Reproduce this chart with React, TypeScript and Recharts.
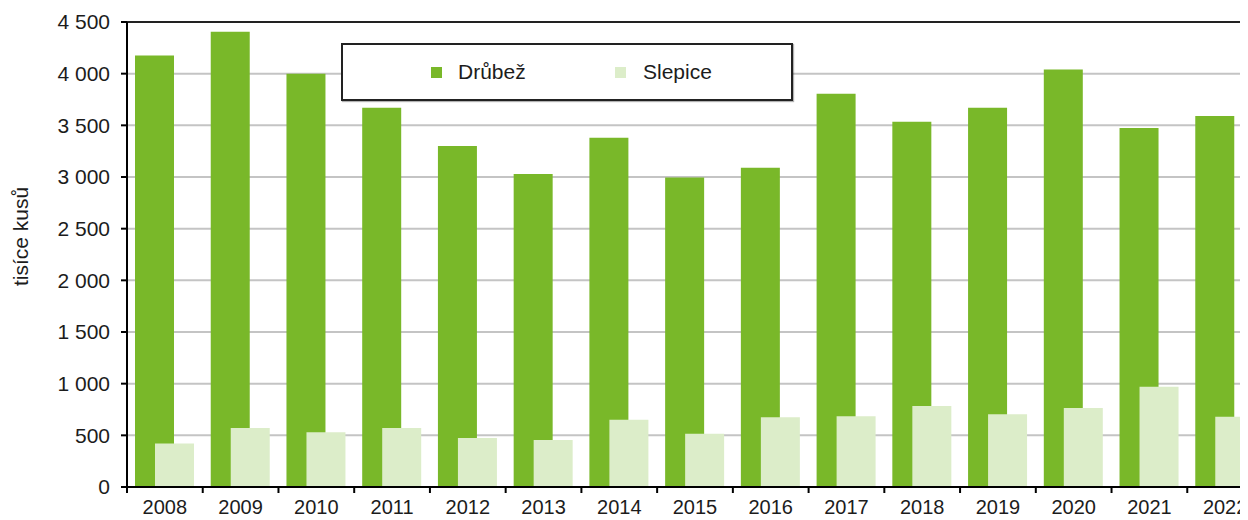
import React from 'react';
import {
  BarChart,
  Bar,
  XAxis,
  YAxis,
  CartesianGrid,
  ReferenceLine,
} from 'recharts';

const years = ['2008', '2009', '2010', '2011', '2012', '2013', '2014', '2015', '2016', '2017', '2018', '2019', '2020', '2021', '2022'];
const drubez = [4175, 4405, 4000, 3670, 3300, 3030, 3380, 2995, 3090, 3805, 3535, 3670, 4040, 3475, 3590];
const slepice = [420, 570, 530, 570, 475, 455, 650, 515, 675, 685, 785, 705, 765, 970, 680];
const yTicks = [0, 500, 1000, 1500, 2000, 2500, 3000, 3500, 4000, 4500];

const GREEN = '#79b829';
const LIGHT = '#dcedc9';
const FONT = '"Liberation Sans", Arial, sans-serif';
const TEXT = '#1c1c1c';

const CHART_W = 1255;
const Y_AXIS_W = 119;
const BAND = (CHART_W - Y_AXIS_W) / years.length;

const data = years.map((y, i) => ({ year: y, drubez: drubez[i], slepice: slepice[i] }));

// "4500" -> "4 500"
const fmt = (v: number) =>
  v >= 1000 ? `${Math.floor(v / 1000)} ${String(v % 1000).padStart(3, '0')}` : String(v);

const XTick = (props: any) => {
  const { x, y, payload } = props;
  const left = x - BAND / 2;
  return (
    <g>
      <line x1={left} x2={left} y1={y} y2={y + 6} stroke="#000" strokeWidth={2} />
      <text x={x} y={y + 27} textAnchor="middle" fontSize={20} fontFamily={FONT} fill={TEXT}>
        {payload.value}
      </text>
    </g>
  );
};

const App: React.FC = () => {
  return (
    <div style={{ width: 1240, height: 512, overflow: 'hidden', position: 'relative', fontFamily: FONT }}>
      <BarChart
        width={CHART_W}
        height={512}
        data={data}
        margin={{ top: 14, right: 0, left: 0, bottom: 0 }}
        barSize={39}
        barGap={-19}
      >
        <CartesianGrid vertical={false} stroke="#c4c4c4" strokeWidth={2} />
        <XAxis
          dataKey="year"
          height={33}
          tickLine={false}
          tickSize={0}
          tickMargin={0}
          axisLine={{ stroke: '#000', strokeWidth: 2 }}
          tick={<XTick />}
          interval={0}
        />
        <YAxis
          width={Y_AXIS_W}
          domain={[0, 4500]}
          ticks={yTicks}
          interval={0}
          tickFormatter={fmt}
          tickSize={6}
          tickMargin={11}
          axisLine={{ stroke: '#000', strokeWidth: 2 }}
          tickLine={{ stroke: '#000', strokeWidth: 2 }}
          tick={{ fontSize: 21, fontFamily: FONT, fill: TEXT }}
          label={{
            value: 'tisíce kusů',
            angle: -90,
            position: 'insideLeft',
            dx: 8,
            dy: -18,
            style: { textAnchor: 'middle', fontSize: 21, fontFamily: FONT, fill: TEXT },
          }}
        />
        <ReferenceLine y={4500} stroke="#222" strokeWidth={2} />
        <Bar dataKey="drubez" name="Drůbež" fill={GREEN} isAnimationActive={false} />
        <Bar dataKey="slepice" name="Slepice" fill={LIGHT} isAnimationActive={false} />
      </BarChart>
      <div
        style={{
          position: 'absolute',
          left: 333,
          top: 35,
          width: 448,
          height: 54,
          border: '2px solid #222',
          background: '#fff',
          boxShadow: '1px 1px 1px rgba(0,0,0,0.3)',
          fontSize: 21,
          color: TEXT,
        }}
      >
        <div style={{ position: 'absolute', left: 88, top: 22, width: 11, height: 11, background: GREEN }} />
        <div style={{ position: 'absolute', left: 115, top: 14, lineHeight: '26px' }}>Drůbež</div>
        <div style={{ position: 'absolute', left: 272, top: 22, width: 11, height: 11, background: LIGHT }} />
        <div style={{ position: 'absolute', left: 300, top: 14, lineHeight: '26px' }}>Slepice</div>
      </div>
    </div>
  );
};

export default App;
